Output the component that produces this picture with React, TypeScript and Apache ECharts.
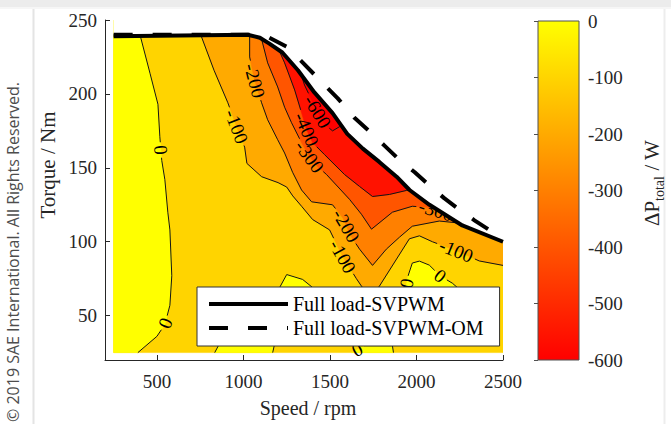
import React, { useEffect, useRef } from 'react';
import * as echarts from 'echarts';

// Full-load torque limit, SVPWM (speed in rpm, torque in Nm)
const fullLoadSpeed = [250, 1025, 1095, 1150, 1225, 1315, 1410, 1515, 1600, 1690, 1785, 1885, 1960, 2075, 2265, 2500];
const fullLoadTorque = [239, 240, 238, 234, 228, 216, 201, 187, 173, 163, 154, 144, 135, 125, 111, 100];

// Full-load torque limit, SVPWM with overmodulation
const omSpeed = [250, 1040, 1150, 1250, 1340, 1440, 1545, 1640, 1730, 1815, 1900, 1990, 2075, 2160, 2245, 2335, 2420];
const omTorque = [240, 240, 238, 232, 221.5, 209.5, 197, 184, 174.5, 165, 155.5, 147, 138, 129.5, 122, 114.5, 108];

// Contour lines of the loss difference, [speed, torque]
const contour0West = [[400, 241], [460, 214], [506, 193], [517, 171], [528, 155], [546, 142], [563, 120], [575, 108], [586, 77], [575, 57], [546, 44], [500, 36], [390, 25]];
const contour0IslandA = [[1930, 64], [1953, 77.5], [1976, 85.6], [2017, 86.9], [2074, 84.2], [2138, 76.8], [2207, 72], [2259, 66.7], [2200, 60], [2050, 58], [1930, 64]];
const contour0IslandB = [[834, 25], [875, 34], [1036, 47.5], [1209, 69], [1250, 77.8], [1342, 74.5], [1400, 69], [1267, 47.5], [1180, 30.7], [1169, 25]];
const contour0IslandC = [[1625, 25], [1700, 29.7], [1861, 29.7], [1867, 25]];
const contourM100 = [[750, 241], [830, 216], [910, 194], [960, 178], [1007, 164], [1020, 153], [1105, 144], [1200, 140], [1250, 137], [1285, 131], [1336, 124], [1400, 115], [1498, 108], [1573, 90], [1653, 75], [1682, 70], [1734, 63], [1786, 70], [1959, 102], [2017, 104], [2092, 100], [2230, 94], [2363, 87], [2500, 84]];
const contourM200 = [[1036, 241], [1036, 225], [1065, 209], [1105, 194], [1140, 182.5], [1198, 169], [1238, 160], [1284, 147], [1336, 135], [1394, 127], [1515, 125], [1575, 116], [1620, 104], [1671, 95], [1746, 84], [1826, 95], [1901, 103], [1976, 110.5], [2132, 114], [2300, 112]];
const contourM300 = [[1100, 241], [1105, 237], [1140, 221], [1198, 204.7], [1238, 191], [1278, 180.5], [1336, 167], [1382, 157.6], [1428, 150.9], [1480, 145.5], [1613, 128.7], [1682, 118.6], [1740, 108.5], [1861, 120], [1976, 124], [2063, 123.3], [2161, 119.2], [2247, 114.5], [2350, 108]];
const contourM400 = [[1190, 241], [1198, 231.6], [1238, 221], [1296, 202.7], [1336, 187.2], [1365, 175.8], [1400, 167], [1469, 158.9], [1584, 145.5], [1671, 137.4], [1746, 130.6], [1844, 132], [1942, 134.7], [2017, 136]];
const contourM600 = [[1300, 225], [1353, 206], [1394, 196], [1428, 188], [1474, 179], [1515, 175], [1555, 177.8], [1601, 182.5]];

// Inline contour labels, [speed, torque]
const labels0West = [[517, 162], [546, 45]];
const labels0IslandA = [[1935, 72], [2138, 77]];
const labels0IslandC = [[1655, 27.5]];
const labelsM100 = [[961, 178], [1573, 90], [2230, 94]];
const labelsM200 = [[1065, 209], [1596, 111]];
const labelsM300 = [[1382, 157.6], [2110, 120]];
const labelsM400 = [[1365, 176]];
const labelsM600 = [[1428, 188]];

// Axis ticks
const speedTicks = [500, 1000, 1500, 2000, 2500];
const torqueTicks = [50, 100, 150, 200, 250];
const lossTicks = [0, -100, -200, -300, -400, -500, -600];

// Filled level colours (autumn colormap, -600 .. 0 W)
const levelValues = [0, -100, -200, -300, -400, -600];
const levelColors = ['#FFFF00', '#FFD400', '#FFAA00', '#FF8000', '#FF5500', '#FF1200'];

const SERIF = "'Liberation Serif', 'Times New Roman', serif";
const AXIS = '#262626';
const SPEED_MIN = 250;
const SPEED_MAX = 2500;
const TORQUE_FLOOR = 25;
const TORQUE_TOP = 250;
const LABEL_SIZE = 19;
const OM_DASH = [19, 20];

type P = number[];

const colorOf = (level: number) => levelColors[levelValues.indexOf(level)];
const closeUp = (line: P[]) => [...line, [line[line.length - 1][0], TORQUE_TOP], [line[0][0], TORQUE_TOP]];

const regions = [
  { points: [[SPEED_MIN, TORQUE_FLOOR], [SPEED_MAX, TORQUE_FLOOR], [SPEED_MAX, TORQUE_TOP], [SPEED_MIN, TORQUE_TOP]], color: colorOf(-100) },
  { points: [[SPEED_MIN, TORQUE_FLOOR], [SPEED_MIN, TORQUE_TOP], [contour0West[0][0], TORQUE_TOP], ...contour0West], color: colorOf(0) },
  { points: contour0IslandA, color: colorOf(0) },
  { points: contour0IslandB, color: colorOf(0) },
  { points: contour0IslandC, color: colorOf(0) },
  { points: closeUp(contourM100), color: colorOf(-200) },
  { points: closeUp(contourM200), color: colorOf(-300) },
  { points: closeUp(contourM300), color: colorOf(-400) },
  { points: closeUp(contourM400), color: colorOf(-600) },
  { points: closeUp(contourM600), color: '#FF0000' },
];

const contours = [
  { points: contour0West, labels: labels0West, text: '0' },
  { points: contour0IslandA, labels: labels0IslandA, text: '0' },
  { points: contour0IslandB, labels: [], text: '0' },
  { points: contour0IslandC, labels: labels0IslandC, text: '0' },
  { points: contourM100, labels: labelsM100, text: '-100' },
  { points: contourM200, labels: labelsM200, text: '-200' },
  { points: contourM300, labels: labelsM300, text: '-300' },
  { points: contourM400, labels: labelsM400, text: '-400' },
  { points: contourM600, labels: labelsM600, text: '-600' },
];

const fullLoad = fullLoadSpeed.map((s, i) => [s, fullLoadTorque[i]]);
const fullLoadOM = omSpeed.map((s, i) => [s, omTorque[i]]);
const maskPoints = [...fullLoad, [SPEED_MAX, TORQUE_TOP], [SPEED_MIN, TORQUE_TOP]];

// ---- polyline helpers (pixel space) ----
function cumulative(px: P[]) {
  const c = [0];
  for (let i = 1; i < px.length; i++) c.push(c[i - 1] + Math.hypot(px[i][0] - px[i - 1][0], px[i][1] - px[i - 1][1]));
  return c;
}
function pointAt(px: P[], cum: number[], s: number): P {
  if (s <= 0) return px[0];
  for (let i = 1; i < px.length; i++) {
    if (cum[i] >= s) {
      const seg = cum[i] - cum[i - 1] || 1;
      const t = (s - cum[i - 1]) / seg;
      return [px[i - 1][0] + t * (px[i][0] - px[i - 1][0]), px[i - 1][1] + t * (px[i][1] - px[i - 1][1])];
    }
  }
  return px[px.length - 1];
}
function project(px: P[], cum: number[], q: P) {
  let best = { d: Infinity, s: 0 };
  for (let i = 0; i < px.length - 1; i++) {
    const a = px[i], b = px[i + 1];
    const dx = b[0] - a[0], dy = b[1] - a[1];
    const l2 = dx * dx + dy * dy;
    if (l2 === 0) continue;
    let t = ((q[0] - a[0]) * dx + (q[1] - a[1]) * dy) / l2;
    t = Math.max(0, Math.min(1, t));
    const d = Math.hypot(q[0] - (a[0] + t * dx), q[1] - (a[1] + t * dy));
    if (d < best.d) best = { d, s: cum[i] + t * Math.sqrt(l2) };
  }
  return best.s;
}
const labelHalf = (text: string) => (LABEL_SIZE * (text.replace('-', '').length * 0.5 + (text.includes('-') ? 0.333 : 0))) / 2 + 3;

function renderContours(_params: any, api: any) {
  const toPx = (pts: P[]) => pts.map((p) => api.coord(p));
  const children: any[] = [];

  regions.forEach((r) => {
    children.push({ type: 'polygon', shape: { points: toPx(r.points) }, style: { fill: r.color, stroke: r.color, lineWidth: 0.6 } });
  });

  const texts: any[] = [];
  contours.forEach((c) => {
    const px = toPx(c.points);
    const cum = cumulative(px);
    const total = cum[cum.length - 1];
    const hw = labelHalf(c.text);
    const cuts = c.labels.map((l) => project(px, cum, api.coord(l))).sort((a, b) => a - b);
    let start = 0;
    const ranges: number[][] = [];
    cuts.forEach((s) => {
      if (s - hw > start) ranges.push([start, s - hw]);
      start = Math.max(start, s + hw);
    });
    if (start < total) ranges.push([start, total]);
    ranges.forEach(([u, v]) => {
      const pts: P[] = [pointAt(px, cum, u)];
      for (let i = 0; i < px.length; i++) if (cum[i] > u && cum[i] < v) pts.push(px[i]);
      pts.push(pointAt(px, cum, v));
      children.push({ type: 'polyline', shape: { points: pts }, style: { stroke: '#141414', lineWidth: 1, fill: 'none' } });
    });
    cuts.forEach((s) => {
      const p = pointAt(px, cum, s);
      const a = pointAt(px, cum, s - hw);
      const b = pointAt(px, cum, s + hw);
      let dx = b[0] - a[0], dy = b[1] - a[1];
      if (dx < 0 || (dx === 0 && dy < 0)) { dx = -dx; dy = -dy; }
      const theta = Math.atan2(dy, dx);
      texts.push({
        type: 'text', x: p[0], y: p[1], rotation: -theta,
        style: {
          text: c.text, fill: '#000', fontSize: LABEL_SIZE, fontFamily: SERIF,
          align: 'center', verticalAlign: 'middle', textAlign: 'center', textVerticalAlign: 'middle',
        },
      });
    });
  });
  children.push(...texts);

  // blank out everything beyond the full-load limit
  children.push({ type: 'polygon', shape: { points: toPx(maskPoints) }, style: { fill: '#ffffff', stroke: '#ffffff', lineWidth: 0.5 } });
  return { type: 'group', children };
}

function renderColorbar(_params: any, api: any) {
  const p0 = api.coord([0, lossTicks[0]]);
  const p1 = api.coord([1, lossTicks[lossTicks.length - 1]]);
  return {
    type: 'rect',
    shape: { x: p0[0], y: p0[1], width: p1[0] - p0[0], height: p1[1] - p0[1] },
    style: {
      fill: new echarts.graphic.LinearGradient(0, 0, 0, 1, [
        { offset: 0, color: levelColors[0] },
        { offset: 1, color: '#FF0000' },
      ]),
      stroke: '#505050',
      lineWidth: 1,
    },
  };
}

export default function App() {
  const ref = useRef<HTMLDivElement>(null);

  useEffect(() => {
    if (!ref.current) return;
    const chart = echarts.init(ref.current, null, { renderer: 'svg' });
    const tickFont = { fontFamily: SERIF, fontSize: 19, color: AXIS };
    const plain = (v: number) => String(v);

    chart.setOption({
      animation: false,
      backgroundColor: '#ffffff',
      grid: [
        { left: 105, right: 168, top: 20, bottom: 64 },
        { left: 538, width: 41, top: 21, bottom: 64 },
      ],
      xAxis: [
        {
          type: 'value', gridIndex: 0, min: 200, max: 2500,
          splitLine: { show: false },
          axisLine: { lineStyle: { color: AXIS, width: 1 } },
          axisTick: { inside: true, length: 5, customValues: speedTicks, lineStyle: { color: AXIS } },
          axisLabel: { customValues: speedTicks, margin: 12, formatter: plain, ...tickFont },
        },
        { type: 'value', gridIndex: 1, min: 0, max: 1, show: false },
      ],
      yAxis: [
        {
          type: 'value', gridIndex: 0, min: 20, max: 250,
          splitLine: { show: false },
          axisLine: { show: true, lineStyle: { color: AXIS, width: 1 } },
          axisTick: { show: true, inside: true, length: 5, customValues: torqueTicks, lineStyle: { color: AXIS } },
          axisLabel: { customValues: torqueTicks, margin: 8, formatter: plain, ...tickFont },
        },
        {
          type: 'value', gridIndex: 1, min: -600, max: 0, interval: 100, position: 'right',
          splitLine: { show: false },
          axisLine: { show: false },
          axisTick: { show: true, inside: true, length: 4, lineStyle: { color: '#505050' } },
          axisLabel: { margin: 9, formatter: plain, ...tickFont },
        },
      ],
      legend: {
        data: [
          { name: 'Full load-SVPWM', lineStyle: { type: 'solid' } },
          { name: 'Full load-SVPWM-OM', lineStyle: { type: OM_DASH } },
        ],
        orient: 'vertical', left: 197, top: 287,
        itemWidth: 79, itemHeight: 14, itemGap: 4,
        padding: [7, 16, 8, 10],
        backgroundColor: '#ffffff', borderColor: '#333333', borderWidth: 1, borderRadius: 0,
        itemStyle: { opacity: 0, borderWidth: 0 },
        lineStyle: { width: 4, color: '#000' },
        textStyle: { fontFamily: SERIF, fontSize: 20, color: '#000', lineHeight: 20 },
        selectedMode: false,
      },
      graphic: [
        { type: 'rect', shape: { x: 0, y: 0, width: 671, height: 7 }, style: { fill: '#ececec' }, silent: true },
        { type: 'rect', shape: { x: 0, y: 7, width: 671, height: 2 }, style: { fill: '#f6f6f6' }, silent: true },
        { type: 'line', shape: { x1: 33.5, y1: 9, x2: 33.5, y2: 424 }, style: { stroke: '#e4e4e4', lineWidth: 2 }, silent: true },
        { type: 'line', shape: { x1: 664.5, y1: 9, x2: 664.5, y2: 424 }, style: { stroke: '#ededed', lineWidth: 2 }, silent: true },
        {
          type: 'text', x: 13, y: 252, rotation: Math.PI / 2, silent: true,
          style: {
            text: '© 2019 SAE International. All Rights Reserved.', fill: '#4d4d4d',
            fontFamily: "'Open Sans', sans-serif", fontSize: 16,
            align: 'center', verticalAlign: 'middle', textAlign: 'center', textVerticalAlign: 'middle',
          },
        },
        {
          type: 'text', x: 48, y: 165, rotation: Math.PI / 2, silent: true,
          style: {
            text: 'Torque / Nm', fill: AXIS, fontFamily: SERIF, fontSize: 21,
            align: 'center', verticalAlign: 'middle', textAlign: 'center', textVerticalAlign: 'middle',
          },
        },
        {
          type: 'text', x: 308, y: 408, silent: true,
          style: {
            text: 'Speed / rpm', fill: AXIS, fontFamily: SERIF, fontSize: 20,
            align: 'center', verticalAlign: 'middle', textAlign: 'center', textVerticalAlign: 'middle',
          },
        },
        {
          type: 'text', x: 652, y: 183, rotation: Math.PI / 2, silent: true,
          style: {
            text: '{a|ΔP}{b|total}{a| / W}', fill: AXIS,
            align: 'center', verticalAlign: 'middle', textAlign: 'center', textVerticalAlign: 'middle',
            rich: {
              a: { fontFamily: SERIF, fontSize: 21, lineHeight: 28, verticalAlign: 'middle', fill: AXIS },
              b: { fontFamily: SERIF, fontSize: 14, lineHeight: 14, verticalAlign: 'bottom', fill: AXIS },
            },
          },
        },
      ],
      series: [
        {
          type: 'custom', name: 'loss', xAxisIndex: 0, yAxisIndex: 0, clip: true, silent: true, z: 2,
          data: [[SPEED_MIN, TORQUE_FLOOR]], encode: { x: 0, y: 1 },
          renderItem: renderContours,
        },
        {
          type: 'custom', name: 'colorbar', xAxisIndex: 1, yAxisIndex: 1, silent: true, z: 2,
          data: [[0, 0]], encode: { x: 0, y: 1 },
          renderItem: renderColorbar,
        },
        {
          type: 'line', name: 'Full load-SVPWM', xAxisIndex: 0, yAxisIndex: 0, data: fullLoad,
          symbol: 'none', silent: true, z: 5,
          lineStyle: { color: '#000', width: 4, join: 'round' }, itemStyle: { color: '#000' },
        },
        {
          type: 'line', name: 'Full load-SVPWM-OM', xAxisIndex: 0, yAxisIndex: 0, data: fullLoadOM,
          symbol: 'none', silent: true, z: 5,
          lineStyle: { color: '#000', width: 4, type: OM_DASH }, itemStyle: { color: '#000' },
        },
      ],
    });
    return () => chart.dispose();
  }, []);

  return <div ref={ref} style={{ position: 'fixed', left: 0, top: 0, width: 671, height: 424, background: '#fff' }} />;
}
